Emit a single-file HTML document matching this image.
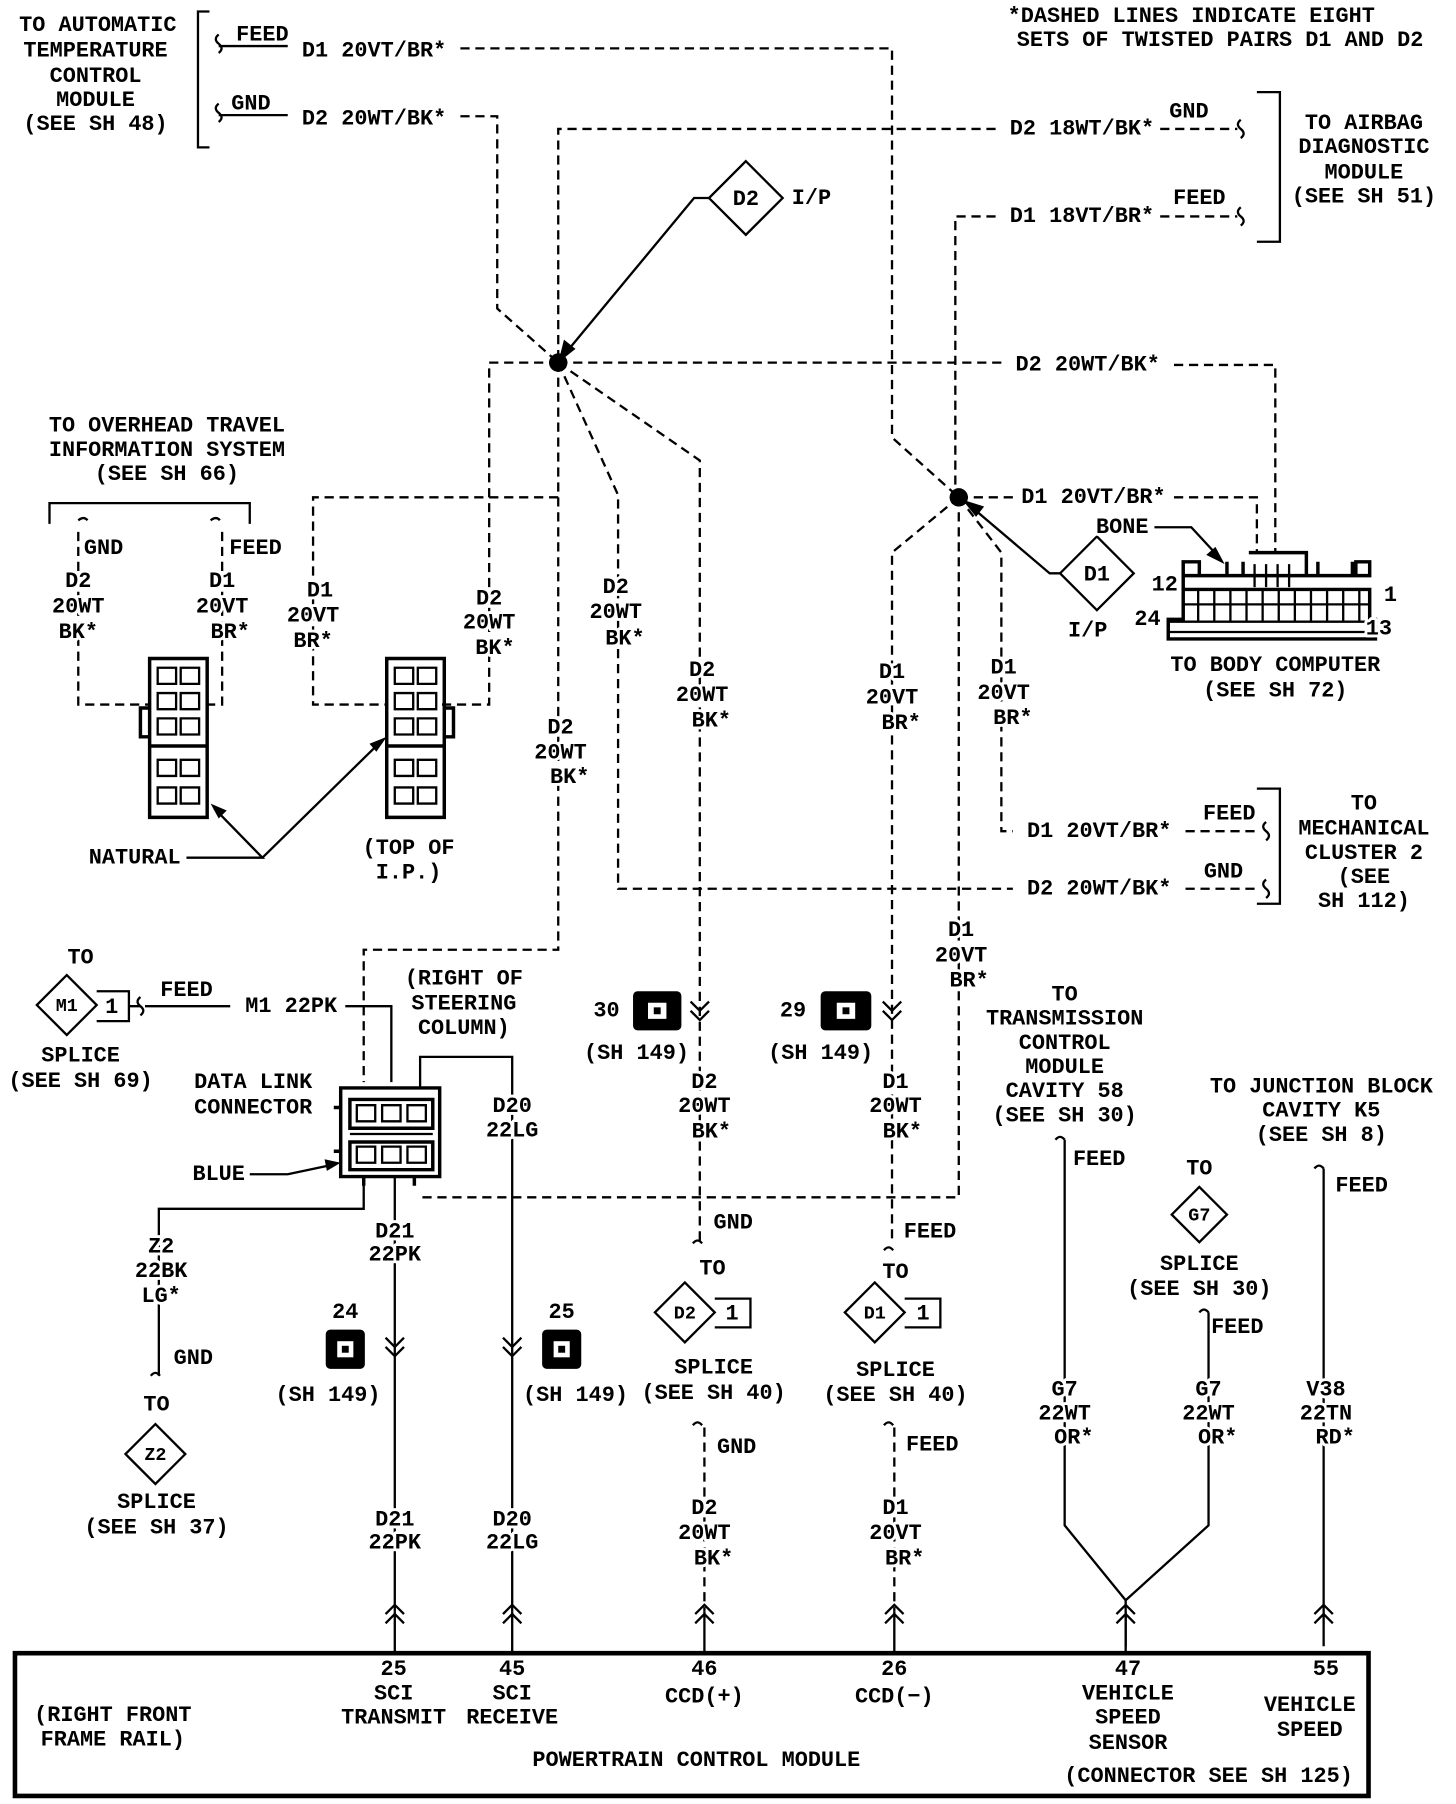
<!DOCTYPE html>
<html><head><meta charset="utf-8"><style>html,body{margin:0;padding:0;background:#fff}svg{display:block}</style></head><body>
<svg width="1456" height="1804" viewBox="0 0 1265 1567" preserveAspectRatio="none" xmlns="http://www.w3.org/2000/svg">
<style>
text{font-family:"Liberation Mono",monospace;font-size:19px;font-weight:bold;fill:#000;text-anchor:middle;dominant-baseline:middle;stroke:#fff;stroke-width:5px;paint-order:stroke;stroke-linejoin:round}
.s{stroke:#000;stroke-width:2;fill:none}
.d{stroke:#000;stroke-width:2;fill:none;stroke-dasharray:8 5}
.t{stroke:#000;stroke-width:3;fill:none}
</style>
<rect width="1265" height="1567" fill="#fff"/>
<!-- top left -->
<text x="85" y="22">TO AUTOMATIC</text><text x="83" y="44">TEMPERATURE</text><text x="83" y="66">CONTROL</text><text x="83" y="87">MODULE</text><text x="83" y="108">(SEE SH 48)</text>
<path class="s" d="M182 10H172V128H182"/>
<path class="s" d="M190 30q-5 4 0 8q5 4 0 8M190 90q-5 4 0 8q5 4 0 8M190 40H250M190 100H250"/>
<text x="228" y="30">FEED</text><text x="218" y="90">GND</text>
<path class="d" d="M400 42H775V380L833 432M400 101H432V268L485 315"/>
<text x="325" y="44">D1 20VT/BR*</text><text x="325" y="103">D2 20WT/BK*</text>
<text x="1035" y="14">*DASHED LINES INDICATE EIGHT</text><text x="1060" y="35">SETS OF TWISTED PAIRS D1 AND D2</text>
<!-- airbag -->
<path class="d" d="M865 112H485V315M1008 112H1075M865 188H830V432M1008 188H1075"/>
<text x="940" y="112">D2 18WT/BK*</text><text x="940" y="188">D1 18VT/BR*</text>
<path class="s" d="M1078 104q-5 4 0 8q5 4 0 8M1078 180q-5 4 0 8q5 4 0 8"/>
<text x="1033" y="97">GND</text><text x="1042" y="172">FEED</text>
<path class="s" d="M1092 80H1112V210H1092"/>
<text x="1185" y="107">TO AIRBAG</text><text x="1185" y="128">DIAGNOSTIC</text><text x="1185" y="150">MODULE</text><text x="1185" y="171">(SEE SH 51)</text>
<!-- D2 IP diamond -->
<path class="s" d="M648 140L680 172L648 204L616 172Z"/><text x="648" y="173">D2</text><text x="705" y="172">I/P</text>
<path class="s" d="M616 172H603L492 306"/><path d="M485 315L490 295L500 303Z" fill="#000"/>
<circle cx="485" cy="315" r="8" fill="#000"/><circle cx="833" cy="432" r="8" fill="#000"/>
<path class="d" d="M485 315H872M1020 317H1108V480M833 432H880M1020 432H1092V480"/>
<text x="945" y="317">D2 20WT/BK*</text><text x="950" y="432">D1 20VT/BR*</text>
<!-- dashed branches -->
<path class="d" d="M485 315H425V612H380M485 432H272V612H335M485 315V825H316V940M485 315L537 430V772H880M485 315L608 400V1080M833 432L775 480V1080M833 432L870 480V722H880M833 432V1040H365"/>
<text x="278" y="513">D1</text><text x="272" y="535">20VT</text><text x="272" y="557">BR*</text>
<text x="425" y="520">D2</text><text x="425" y="541">20WT</text><text x="430" y="563">BK*</text>
<text x="535" y="510">D2</text><text x="535" y="532">20WT</text><text x="543" y="555">BK*</text>
<text x="610" y="582">D2</text><text x="610" y="604">20WT</text><text x="618" y="626">BK*</text>
<text x="487" y="632">D2</text><text x="487" y="654">20WT</text><text x="495" y="675">BK*</text>
<text x="775" y="584">D1</text><text x="775" y="606">20VT</text><text x="783" y="628">BR*</text>
<text x="872" y="580">D1</text><text x="872" y="602">20VT</text><text x="880" y="624">BR*</text>
<text x="835" y="808">D1</text><text x="835" y="830">20VT</text><text x="842" y="852">BR*</text>
<!-- D1 IP -->
<path class="s" d="M953 466L985 498L953 530L921 498Z"/><text x="953" y="499">D1</text><text x="945" y="548">I/P</text>
<path class="s" d="M921 498H912L846 442"/><path d="M836 434L855 440L848 449Z" fill="#000"/>
<!-- body computer -->
<path class="s" d="M1003 458H1035L1060 485"/><path d="M1064 490L1048 482L1056 475Z" fill="#000"/>
<text x="975" y="458">BONE</text>
<path class="t" d="M1028 512V488H1042V500M1028 500H1190V488H1178V500M1080 488V500M1066 488V500M1085 480H1135V500M1145 488V500M1175 488V500M1028 512H1190V538H1195V555H1015V538H1028Z"/>
<path class="s" d="M1028 525H1190M1015 540H1195M1015 549H1195M1041 512V540M1055 512V540M1069 512V540M1083 512V540M1097 512V540M1111 512V540M1125 512V540M1139 512V540M1153 512V540M1167 512V540M1181 512V540M1090 490V510M1100 490V510M1110 490V510M1120 490V510"/>
<text x="1012" y="508">12</text><text x="1208" y="517">1</text><text x="997" y="538">24</text><text x="1198" y="546">13</text>
<text x="1108" y="578">TO BODY COMPUTER</text><text x="1108" y="600">(SEE SH 72)</text>
<!-- overhead -->
<text x="145" y="370">TO OVERHEAD TRAVEL</text><text x="145" y="391">INFORMATION SYSTEM</text><text x="145" y="412">(SEE SH 66)</text>
<path class="s" d="M43 455V437H217V455M68 452q5-4 8 0M183 452q5-4 8 0"/>
<path class="d" d="M68 462V612H130M193 462V612H180"/>
<text x="90" y="476">GND</text><text x="222" y="476">FEED</text>
<text x="68" y="505">D2</text><text x="68" y="527">20WT</text><text x="68" y="549">BK*</text>
<text x="193" y="505">D1</text><text x="193" y="527">20VT</text><text x="200" y="549">BR*</text>
<path class="t" d="M130 572H180V710H130ZM130 648H180M130 615H122V640H130"/>
<path class="t" d="M336 572H386V710H336ZM336 648H386M386 615H394V640H386"/>
<path class="s" d="M137 580h16v14h-16zM157 580h16v14h-16zM137 602h16v14h-16zM157 602h16v14h-16zM137 624h16v14h-16zM157 624h16v14h-16zM137 660h16v14h-16zM157 660h16v14h-16zM137 684h16v14h-16zM157 684h16v14h-16z"/>
<path class="s" d="M343 580h16v14h-16zM363 580h16v14h-16zM343 602h16v14h-16zM363 602h16v14h-16zM343 624h16v14h-16zM363 624h16v14h-16zM343 660h16v14h-16zM363 660h16v14h-16zM343 684h16v14h-16zM363 684h16v14h-16z"/>
<path class="s" d="M162 745H228L186 702M228 745L330 645"/>
<path d="M183 698L197 704L190 711Z" fill="#000"/><path d="M336 640L327 653L321 646Z" fill="#000"/>
<text x="117" y="745">NATURAL</text>
<text x="355" y="737">(TOP OF</text><text x="355" y="758">I.P.)</text>
<!-- mech cluster -->
<path class="d" d="M1030 722H1095M1030 772H1095"/>
<text x="955" y="722">D1 20VT/BR*</text><text x="955" y="772">D2 20WT/BK*</text>
<path class="s" d="M1100 714q-5 4 0 8q5 4 0 8M1100 764q-5 4 0 8q5 4 0 8M1092 685H1112V785H1092"/>
<text x="1068" y="707">FEED</text><text x="1063" y="757">GND</text>
<text x="1185" y="698">TO</text><text x="1185" y="720">MECHANICAL</text><text x="1185" y="741">CLUSTER 2</text><text x="1185" y="762">(SEE</text><text x="1185" y="783">SH 112)</text>
<!-- M1 -->
<text x="70" y="832">TO</text>
<path class="s" d="M58 847L84 873L58 899L32 873Z"/><text x="58" y="874" style="font-size:16px">M1</text>
<path class="s" d="M84 861H112V887H84M112 874H122M122 866q-5 4 0 8q5 4 0 8M126 874H200M300 874H340V940"/><text x="97" y="875">1</text>
<text x="162" y="860">FEED</text><text x="253" y="874">M1 22PK</text>
<text x="70" y="917">SPLICE</text><text x="70" y="939">(SEE SH 69)</text>
<path class="s" d="M365 945V918H445V1400M316 1022V1050H138V1195M343 1022V1400"/>
<text x="403" y="850">(RIGHT OF</text><text x="403" y="872">STEERING</text><text x="403" y="893">COLUMN)</text>
<text x="220" y="940">DATA LINK</text><text x="220" y="962">CONNECTOR</text>
<path class="s" d="M217 1020H250L288 1012"/><path d="M296 1010L282 1007L284 1017Z" fill="#000"/>
<text x="190" y="1020">BLUE</text>
<path class="t" d="M296 945H382V1022H296ZM304 955H376V980H304ZM304 992H376V1016H304ZM290 962H296V1000H290"/>
<path class="s" d="M310 960h16v14h-16zM332 960h16v14h-16zM354 960h16v14h-16zM310 996h16v14h-16zM332 996h16v14h-16zM354 996h16v14h-16zM304 985H376"/>
<path class="t" d="M316 1022v8M360 1022v8"/>
<text x="445" y="961">D20</text><text x="445" y="982">22LG</text>
<text x="343" y="1070">D21</text><text x="343" y="1090">22PK</text>
<text x="140" y="1083">Z2</text><text x="140" y="1104">22BK</text><text x="140" y="1126">LG*</text>
<path class="s" d="M131 1195q4-5 8 0"/>
<text x="168" y="1180">GND</text><text x="136" y="1220">TO</text>
<path class="s" d="M135 1237L161 1263L135 1289L109 1263Z"/><text x="135" y="1264" style="font-size:16px">Z2</text>
<text x="136" y="1305">SPLICE</text><text x="136" y="1327">(SEE SH 37)</text>
<!-- 149 icons -->
<g>
<rect x="283" y="1155" width="34" height="34" rx="4" fill="#000"/><rect x="293" y="1165" width="14" height="14" fill="#fff"/><rect x="297" y="1169" width="6" height="6" fill="#000"/>
<rect x="471" y="1155" width="34" height="34" rx="4" fill="#000"/><rect x="481" y="1165" width="14" height="14" fill="#fff"/><rect x="485" y="1169" width="6" height="6" fill="#000"/>
<rect x="550" y="861" width="42" height="34" rx="4" fill="#000"/><rect x="563" y="871" width="16" height="14" fill="#fff"/><rect x="568" y="875" width="6" height="6" fill="#000"/>
<rect x="713" y="861" width="44" height="34" rx="4" fill="#000"/><rect x="727" y="871" width="16" height="14" fill="#fff"/><rect x="732" y="875" width="6" height="6" fill="#000"/>
</g>
<text x="300" y="1140">24</text><text x="285" y="1212">(SH 149)</text>
<text x="488" y="1140">25</text><text x="500" y="1212">(SH 149)</text>
<text x="527" y="878">30</text><text x="553" y="915">(SH 149)</text>
<text x="689" y="878">29</text><text x="713" y="915">(SH 149)</text>
<path class="s" d="M335 1162l8 8l8-8M335 1170l8 8l8-8M437 1162l8 8l8-8M437 1170l8 8l8-8M600 870l8 8l8-8M600 878l8 8l8-8M767 870l8 8l8-8M767 878l8 8l8-8"/>
<text x="612" y="940">D2</text><text x="612" y="961">20WT</text><text x="618" y="983">BK*</text>
<text x="778" y="940">D1</text><text x="778" y="961">20WT</text><text x="784" y="983">BK*</text>
<!-- splices D2 D1 -->
<path class="s" d="M602 1080q4-5 8 0M768 1086q4-5 8 0"/>
<text x="637" y="1062">GND</text><text x="808" y="1070">FEED</text>
<text x="619" y="1102">TO</text><text x="778" y="1105">TO</text>
<path class="s" d="M595 1114L621 1140L595 1166L569 1140Z"/><text x="595" y="1141" style="font-size:16px">D2</text>
<path class="s" d="M621 1128H652V1153H621"/><text x="636" y="1141">1</text>
<path class="s" d="M760 1114L786 1140L760 1166L734 1140Z"/><text x="760" y="1141" style="font-size:16px">D1</text>
<path class="s" d="M786 1128H817V1153H786"/><text x="802" y="1141">1</text>
<text x="620" y="1188">SPLICE</text><text x="620" y="1210">(SEE SH 40)</text>
<text x="778" y="1190">SPLICE</text><text x="778" y="1212">(SEE SH 40)</text>
<path class="s" d="M602 1238q4-5 8 0M768 1238q4-5 8 0"/>
<path class="d" d="M612 1240V1400M777 1240V1400"/>
<text x="640" y="1257">GND</text><text x="810" y="1255">FEED</text>
<text x="612" y="1310">D2</text><text x="612" y="1332">20WT</text><text x="620" y="1354">BK*</text>
<text x="778" y="1310">D1</text><text x="778" y="1332">20VT</text><text x="786" y="1354">BR*</text>
<text x="343" y="1320">D21</text><text x="343" y="1340">22PK</text>
<text x="445" y="1320">D20</text><text x="445" y="1340">22LG</text>
<!-- transmission -->
<path class="s" d="M917 990q4-5 8 0M925 990V1325L978 1390M1050 1140V1325L978 1390V1430M1142 1015q4-5 8 0M1150 1015V1430M1042 1140q4-5 8 0"/>
<text x="925" y="864">TO</text><text x="925" y="885">TRANSMISSION</text><text x="925" y="906">CONTROL</text><text x="925" y="927">MODULE</text><text x="925" y="948">CAVITY 58</text><text x="925" y="969">(SEE SH 30)</text>
<text x="955" y="1007">FEED</text>
<text x="1148" y="944">TO JUNCTION BLOCK</text><text x="1148" y="965">CAVITY K5</text><text x="1148" y="986">(SEE SH 8)</text>
<text x="1183" y="1030">FEED</text>
<text x="1042" y="1015">TO</text>
<path class="s" d="M1042 1031L1066 1055L1042 1079L1018 1055Z"/><text x="1042" y="1056" style="font-size:16px">G7</text>
<text x="1042" y="1098">SPLICE</text><text x="1042" y="1120">(SEE SH 30)</text><text x="1075" y="1153">FEED</text>
<text x="925" y="1207">G7</text><text x="925" y="1228">22WT</text><text x="933" y="1249">OR*</text>
<text x="1050" y="1207">G7</text><text x="1050" y="1228">22WT</text><text x="1058" y="1249">OR*</text>
<text x="1152" y="1207">V38</text><text x="1152" y="1228">22TN</text><text x="1160" y="1249">RD*</text>
<!-- bottom connectors -->
<path class="s" d="M343 1400V1435M445 1400V1435M612 1400V1435M777 1400V1435M978 1400V1435"/>
<path class="s" d="M335 1402l8-8l8 8M335 1410l8-8l8 8M437 1402l8-8l8 8M437 1410l8-8l8 8M604 1402l8-8l8 8M604 1410l8-8l8 8M769 1402l8-8l8 8M769 1410l8-8l8 8M970 1402l8-8l8 8M970 1410l8-8l8 8M1142 1402l8-8l8 8M1142 1410l8-8l8 8"/>
<!-- PCM -->
<rect x="13" y="1436" width="1176" height="124" fill="none" stroke="#000" stroke-width="4"/>
<text x="342" y="1450">25</text><text x="342" y="1471">SCI</text><text x="342" y="1492">TRANSMIT</text>
<text x="445" y="1450">45</text><text x="445" y="1471">SCI</text><text x="445" y="1492">RECEIVE</text>
<text x="612" y="1450">46</text><text x="612" y="1474">CCD(+)</text>
<text x="777" y="1450">26</text><text x="777" y="1474">CCD(−)</text>
<text x="980" y="1450">47</text><text x="980" y="1471">VEHICLE</text><text x="980" y="1492">SPEED</text><text x="980" y="1514">SENSOR</text>
<text x="1152" y="1450">55</text><text x="1138" y="1481">VEHICLE</text><text x="1138" y="1503">SPEED</text>
<text x="98" y="1490">(RIGHT FRONT</text><text x="98" y="1511">FRAME RAIL)</text>
<text x="605" y="1529">POWERTRAIN CONTROL MODULE</text>
<text x="1050" y="1543">(CONNECTOR SEE SH 125)</text>
</svg>
</body></html>
